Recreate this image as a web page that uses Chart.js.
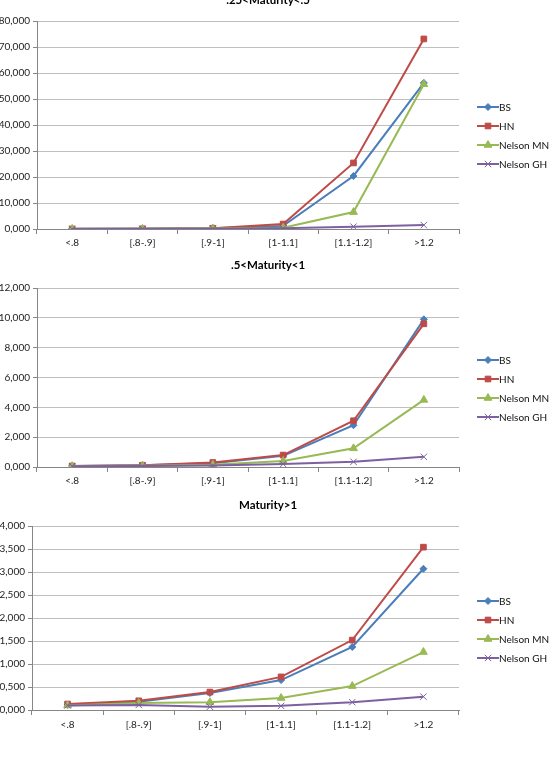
<!DOCTYPE html>
<html>
<head>
<meta charset="utf-8">
<script src="https://cdn.jsdelivr.net/npm/chart.js@4"></script>
<style>
  html, body { margin: 0; padding: 0; background: #fff; }
  body { width: 555px; height: 765px; position: relative; overflow: hidden; }
  canvas { position: absolute; left: 0; }
</style>
</head>
<body>
<canvas id="c1" width="555" height="252" style="top:0px"></canvas>
<canvas id="c2" width="555" height="240" style="top:252px"></canvas>
<canvas id="c3" width="555" height="273" style="top:492px"></canvas>
<script>
// categories (moneyness buckets)
const categories = ['<.8', '[.8-.9]', '[.9-1]', '[1-1.1]', '[1.1-1.2]', '>1.2'];
const seriesNames = ['BS', 'HN', 'Nelson MN', 'Nelson GH'];

// .25<Maturity<.5
const bs1 = [0.05, 0.1, 0.25, 1.2, 20.4, 56.2];
const hn1 = [0.05, 0.1, 0.3, 1.9, 25.4, 73.1];
const mn1 = [0.03, 0.05, 0.15, 0.5, 6.5, 55.7];
const gh1 = [0.02, 0.05, 0.1, 0.3, 0.9, 1.5];

// .5<Maturity<1
const bs2 = [0.07, 0.12, 0.25, 0.75, 2.8, 9.9];
const hn2 = [0.07, 0.12, 0.3, 0.8, 3.1, 9.6];
const mn2 = [0.05, 0.08, 0.15, 0.4, 1.25, 4.5];
const gh2 = [0.05, 0.07, 0.1, 0.2, 0.35, 0.68];

// Maturity>1
const bs3 = [0.11, 0.18, 0.37, 0.65, 1.37, 3.07];
const hn3 = [0.13, 0.2, 0.39, 0.72, 1.52, 3.54];
const mn3 = [0.1, 0.15, 0.17, 0.26, 0.52, 1.26];
const gh3 = [0.1, 0.11, 0.07, 0.09, 0.17, 0.29];

// y-axis ticks
const yTicks1 = { max: 80, step: 10 };
const yTicks2 = { max: 12, step: 2 };
const yTicks3 = { max: 4, step: 0.5 };

const colors = ['#4A7EBB', '#BE4B48', '#98B954', '#7D60A0'];
const markers = [
  { pointStyle: 'rectRot', radius: 3.5 },
  { pointStyle: 'rect', radius: 4 },
  { pointStyle: 'triangle', radius: 4.5 },
  { pointStyle: 'crossRot', radius: 4.5 }
];
const FONT = 'Lato, "Liberation Sans", sans-serif';

// title + legend drawn like the Excel chart (line with marker in the middle)
const excelDecor = {
  id: 'excelDecor',
  afterDraw(chart, args, opts) {
    const ctx = chart.ctx;
    ctx.save();
    ctx.fillStyle = '#000';
    ctx.font = 'bold 11.5px ' + FONT;
    ctx.textAlign = 'center';
    ctx.textBaseline = 'middle';
    ctx.fillText(opts.title, opts.titleX, opts.titleY);

    ctx.font = '10px ' + FONT;
    ctx.textAlign = 'left';
    chart.data.datasets.forEach((ds, i) => {
      const y = opts.legendY + i * 19;
      const x = opts.legendX;
      ctx.strokeStyle = ds.borderColor;
      ctx.lineWidth = 2;
      ctx.beginPath();
      ctx.moveTo(x, y);
      ctx.lineTo(x + 22, y);
      ctx.stroke();
      ctx.fillStyle = ds.pointBackgroundColor;
      ctx.strokeStyle = ds.pointBorderColor;
      ctx.lineWidth = 1;
      Chart.helpers.drawPoint(ctx, {
        pointStyle: ds.pointStyle, radius: ds.pointRadius, rotation: 0, borderWidth: 1
      }, x + 11, y);
      ctx.fillStyle = '#111';
      ctx.fillText(ds.label, x + 22, y + 0.5);
    });
    ctx.restore();
  }
};

function makeChart(id, values, ticks, cfg) {
  const datasets = values.map((data, i) => ({
    label: seriesNames[i],
    data: data,
    borderColor: colors[i],
    backgroundColor: colors[i],
    pointBackgroundColor: colors[i],
    pointBorderColor: colors[i],
    pointStyle: markers[i].pointStyle,
    pointRadius: markers[i].radius,
    pointBorderWidth: 1,
    borderWidth: 2,
    tension: 0,
    order: 4 - i // later series on top, as in Excel
  }));

  return new Chart(document.getElementById(id), {
    type: 'line',
    data: { labels: categories, datasets: datasets },
    options: {
      responsive: false,
      animation: false,
      events: [],
      layout: { padding: { top: cfg.top, right: 555 - 459, left: 0, bottom: 0 } },
      plugins: {
        legend: { display: false },
        tooltip: { enabled: false },
        excelDecor: {
          title: cfg.title, titleX: 268, titleY: cfg.titleY,
          legendX: 477, legendY: cfg.legendY
        }
      },
      scales: {
        x: {
          offset: true,
          grid: {
            offset: true, drawOnChartArea: false, drawTicks: true,
            tickLength: 5, tickColor: '#868686'
          },
          border: { display: true, color: '#868686' },
          ticks: {
            color: '#222', font: { family: FONT, size: 10 },
            padding: cfg.xPad, maxRotation: 0, autoSkip: false
          },
          afterFit: (s) => { s.height = cfg.xHeight; }
        },
        y: {
          min: 0,
          max: ticks.max,
          ticks: {
            stepSize: ticks.step,
            color: '#222',
            font: { family: FONT, size: 10 },
            padding: 3,
            callback: (v) => Number(v).toFixed(3).replace('.', ',')
          },
          grid: { color: '#BFBFBF', tickLength: 4, tickColor: '#868686' },
          border: { display: true, color: '#868686' },
          afterFit: (s) => { s.width = cfg.yWidth; }
        }
      }
    },
    plugins: [excelDecor]
  });
}

makeChart('c1', [bs1, hn1, mn1, gh1], yTicks1,
  { title: '.25<Maturity<.5', titleY: 0, top: 21, xHeight: 23, xPad: 3, yWidth: 37, legendY: 107 });
makeChart('c2', [bs2, hn2, mn2, gh2], yTicks2,
  { title: '.5<Maturity<1', titleY: 13, top: 36, xHeight: 25, xPad: 3, yWidth: 37, legendY: 108 });
makeChart('c3', [bs3, hn3, mn3, gh3], yTicks3,
  { title: 'Maturity>1', titleY: 13, top: 34, xHeight: 55, xPad: 4, yWidth: 32, legendY: 109 });
</script>
</body>
</html>
